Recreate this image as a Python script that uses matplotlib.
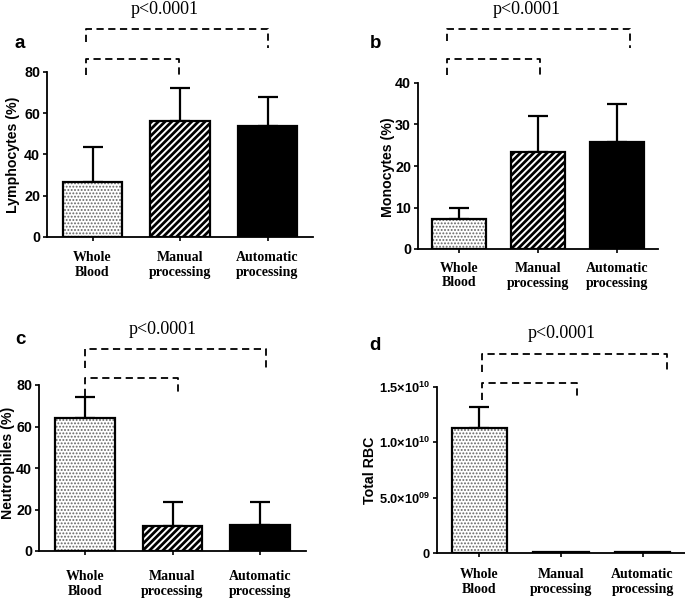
import matplotlib
matplotlib.use("Agg")
import matplotlib.pyplot as plt
import numpy as np

categories = ['Whole\nBlood', 'Manual\nprocessing', 'Automatic\nprocessing']

lymph_mean = [26.7, 56.4, 54.0]
lymph_err = [17.1, 15.7, 14.0]
mono_mean = [7.3, 23.3, 25.9]
mono_err = [2.6, 8.7, 9.0]
neut_mean = [64.0, 11.9, 12.3]
neut_err = [10.2, 11.8, 11.3]
rbc_mean = [1.13e10, 6e7, 6e7]
rbc_err = [0.19e10, 0, 0]

rbc_ticks = [0, 5e9, 1e10, 1.5e10]
rbc_ticklabels = ['0', r'5.0$\times$10$^{09}$', r'1.0$\times$10$^{10}$', r'1.5$\times$10$^{10}$']

p_text = 'p<0.0001'

plt.rcParams['mathtext.fontset'] = 'custom'
plt.rcParams['mathtext.rm'] = 'Liberation Sans:bold'
plt.rcParams['mathtext.it'] = 'Liberation Sans:bold'
plt.rcParams['mathtext.bf'] = 'Liberation Sans:bold'

W, H = 685, 602
fig = plt.figure(figsize=(W / 100, H / 100), dpi=100)


def px_axes(left, right, top, bottom):
    return fig.add_axes([left / W, 1 - bottom / H, (right - left) / W, (bottom - top) / H])


def hatched_bar(ax, x, h, width, hatch, color, hlw):
    with plt.rc_context({'hatch.linewidth': hlw}):
        b = ax.bar(x, h, width, facecolor='white', edgecolor=color, linewidth=0, hatch=hatch, zorder=2)
    for p in b:
        if hasattr(p, 'set_hatch_linewidth'):
            p.set_hatch_linewidth(hlw)
    return b


def draw_panel(ax, means, errs, ylim, yticks, ylabels, tickpad, ytick_size=10.3):
    x = np.arange(len(means))
    w = 0.68
    # whole blood: dotted
    hatched_bar(ax, x[0], means[0], w, '.....', '#666666', 0.9)
    # manual: stripes
    hatched_bar(ax, x[1], means[1], w, '/////', 'black', 2.0)
    # automatic: solid black
    ax.bar(x[2], means[2], w, color='black', zorder=2)
    ax.bar(x, means, w, facecolor='none', edgecolor='black', linewidth=1.6, zorder=3)
    errs = np.array(errs)
    m = errs > 0
    ax.errorbar(x[m], np.array(means)[m], yerr=[np.zeros(m.sum()), errs[m]], fmt='none',
                ecolor='black', elinewidth=1.6, capsize=7.5, capthick=1.6, zorder=1)
    ax.set_xlim(-0.52, 2.52)
    ax.set_ylim(*ylim)
    ax.set_yticks(yticks)
    ax.set_yticklabels(ylabels, fontfamily='Liberation Sans', fontweight='bold', fontsize=ytick_size)
    ax.set_xticks(x)
    ax.set_xticklabels(categories, fontfamily='Liberation Serif', fontweight='bold', fontsize=10,
                       linespacing=1.2)
    ax.tick_params(axis='x', length=3, width=1.2, pad=tickpad)
    ax.tick_params(axis='y', length=3, width=1.2, pad=2)
    for s in ['top', 'right']:
        ax.spines[s].set_visible(False)
    for s in ['left', 'bottom']:
        ax.spines[s].set_linewidth(1.3)


def bracket(ax, xl, xr, y, yl, yr):
    ax.plot([xl, xl, xr, xr], [yl, y, y, yr], color='black', lw=1.3, dashes=(4, 2.5),
            clip_on=False, zorder=4)


# panel a
ax_a = px_axes(47, 313, 72, 237)
draw_panel(ax_a, lymph_mean, lymph_err, (0, 80), [0, 20, 40, 60, 80],
           ['0', '20', '40', '60', '80'], 7)
bracket(ax_a, -0.08, 0.99, 86.3, 78.5, 78.5)
bracket(ax_a, -0.08, 2.01, 100.8, 94.6, 91.6)

# panel b
ax_b = px_axes(418, 658, 83, 249)
draw_panel(ax_b, mono_mean, mono_err, (0, 40), [0, 10, 20, 30, 40],
           ['0', '10', '20', '30', '40'], 6)
bracket(ax_b, -0.15, 1.03, 45.9, 42.0, 42.0)
bracket(ax_b, -0.15, 2.16, 53.0, 50.0, 48.4)

# panel c
ax_c = px_axes(39, 306, 385, 551)
draw_panel(ax_c, neut_mean, neut_err, (0, 80), [0, 20, 40, 60, 80],
           ['0', '20', '40', '60', '80'], 11)
bracket(ax_c, 0.0, 1.06, 83.2, 74.5, 75.3)
bracket(ax_c, 0.0, 2.07, 97.4, 88.0, 88.2)

# panel d
ax_d = px_axes(437, 685, 387, 553)
draw_panel(ax_d, rbc_mean, rbc_err, (0, 1.5e10), rbc_ticks, rbc_ticklabels, 8, ytick_size=9.3)
bracket(ax_d, 0.03, 1.19, 1.535e10, 1.38e10, 1.38e10)
bracket(ax_d, 0.03, 2.30, 1.80e10, 1.634e10, 1.625e10)

# y labels
ylab_kw = dict(rotation=90, ha='center', va='center', fontfamily='Liberation Sans',
               fontweight='bold', fontsize=10.2)
fig.text(13 / W, 1 - 155 / H, 'Lymphocytes (%)', **ylab_kw)
fig.text(388 / W, 1 - 167 / H, 'Monocytes (%)', **ylab_kw)
fig.text(8 / W, 1 - 463 / H, 'Neutrophiles (%)', **ylab_kw)
fig.text(370 / W, 1 - 470 / H, 'Total RBC', **ylab_kw)

# p values
p_kw = dict(ha='center', va='center', fontfamily='Liberation Serif', fontsize=13)
fig.text(165 / W, 1 - 10 / H, p_text, **p_kw)
fig.text(527 / W, 1 - 10 / H, p_text, **p_kw)
fig.text(163 / W, 1 - 330 / H, p_text, **p_kw)
fig.text(562 / W, 1 - 333 / H, p_text, **p_kw)

# panel letters
let_kw = dict(ha='center', va='center', fontfamily='Liberation Sans', fontweight='bold', fontsize=13.5)
fig.text(20 / W, 1 - 44 / H, 'a', **let_kw)
fig.text(376 / W, 1 - 44 / H, 'b', **let_kw)
fig.text(20 / W, 1 - 339 / H, 'c', **let_kw)
fig.text(375 / W, 1 - 346 / H, 'd', **let_kw)

fig.savefig('out.png', dpi=100)
